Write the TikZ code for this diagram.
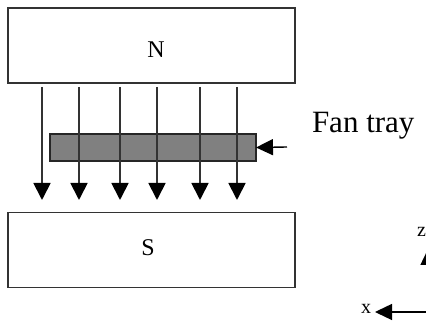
\documentclass[tikz,border=0pt]{standalone}
\usepackage{fontspec}
\setmainfont{Liberation Serif}
\usetikzlibrary{arrows.meta}
\definecolor{traygray}{gray}{0.5}

\begin{document}
\begin{tikzpicture}[x=1pt,y=1pt,
    line width=1.3pt, line cap=butt, line join=miter,
    every node/.style={inner sep=0pt,outer sep=0pt},
    pole/.style={draw=black!80,line width=1.6pt,fill=white,minimum width=287pt,minimum height=75pt},
    polelab/.style={font=\fontsize{24}{28}\selectfont},
    axislab/.style={font=\fontsize{20}{24}\selectfont},
    fieldline/.style={draw=black!80,line width=1.8pt,-{Triangle[width=17pt,length=17pt,fill=black,color=black]}},
    axisline/.style={line width=1.4pt,-{Triangle[width=16pt,length=17pt]}},
    lab/.style={font=\fontsize{31}{36}\selectfont}]
  \useasboundingbox (0,0) rectangle (426,323);
  \clip (0,0) rectangle (426,323);
  % ---- poles and tray ----
  \node[pole] (N) at (151.5,277.5) {};
  \node[pole] (S) at (151.5,73) {};
  \node[polelab] (Nlab) at (156,273) {N};
  \node[polelab] (Slab) at (148,75) {S};
  \node[draw=black!85,line width=1.4pt,fill=traygray,minimum width=206pt,minimum height=27pt] (tray) at (153,175.5) {};
  % ---- field lines ----
  \foreach \i/\px in {1/42,2/79,3/120,4/157,5/200,6/237} {
    \coordinate (top\i) at (\px,236);
    \coordinate (end\i) at (\px,123);
    \draw[fieldline] (top\i)--(end\i);
  }
  % ---- fan tray label ----
  \coordinate (trayin) at (287,176);
  \draw[axisline] (trayin)--(tray.east);
  \node[lab,anchor=west] (fantray) at (312,197) {Fan tray};
  % ---- axes (cut by the right edge) ----
  \node[axislab] (xlab) at (366,14) {x};
  \node[axislab,anchor=east] (zlab) at (426,91) {z};
  \coordinate (xfrom) at (432,11);
  \coordinate (xto) at (375,11);
  \coordinate (zfrom) at (428.5,30);
  \coordinate (zto) at (428.5,75);
  \draw[axisline] (xfrom)--(xto);
  \draw[axisline] (zfrom)--(zto);
\end{tikzpicture}
\end{document}
